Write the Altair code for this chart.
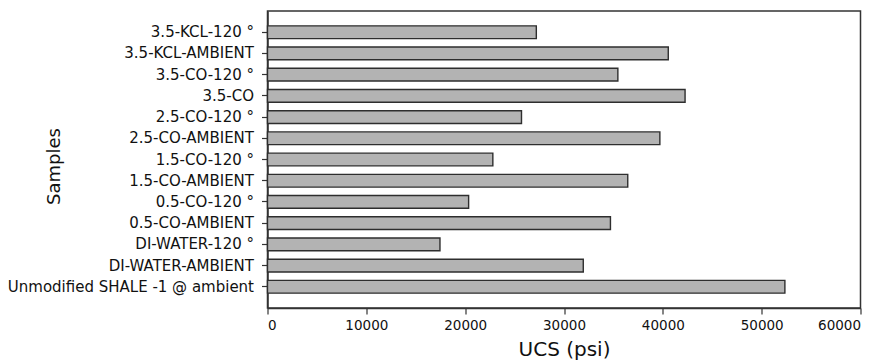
import altair as alt
import pandas as pd

samples = [
    "3.5-KCL-120 °",
    "3.5-KCL-AMBIENT",
    "3.5-CO-120 °",
    "3.5-CO",
    "2.5-CO-120 °",
    "2.5-CO-AMBIENT",
    "1.5-CO-120 °",
    "1.5-CO-AMBIENT",
    "0.5-CO-120 °",
    "0.5-CO-AMBIENT",
    "DI-WATER-120 °",
    "DI-WATER-AMBIENT",
    "Unmodified SHALE -1 @ ambient",
]
ucs = [27200, 40550, 35450, 42250, 25700, 39700, 22800, 36450, 20350, 34700, 17450, 31950, 52350]
x_ticks = [0, 10000, 20000, 30000, 40000, 50000, 60000]

df = pd.DataFrame({"Samples": samples, "UCS": ucs})

FONT = "DejaVu Sans"

chart = (
    alt.Chart(df)
    .mark_bar(fill="#b3b3b3", stroke="#2e2e2e", strokeWidth=1.4)
    .encode(
        x=alt.X(
            "UCS:Q",
            title="UCS (psi)",
            scale=alt.Scale(domain=[0, 60000], nice=False),
            axis=alt.Axis(
                values=x_ticks,
                format="d",
                grid=False,
                tickSize=6,
                labelPadding=4,
                titlePadding=8,
                titleFontSize=20,
                titleFontWeight="normal",
                labelFontSize=13.5,
            ),
        ),
        y=alt.Y(
            "Samples:N",
            title="Samples",
            sort=samples,
            scale=alt.Scale(paddingInner=0.4, paddingOuter=0.7),
            axis=alt.Axis(
                grid=False,
                tickSize=6,
                labelPadding=8,
                labelFontSize=15,
                titleFontSize=18,
                titleFontWeight="normal",
                titleX=-204,
                titleY=155,
                labelLimit=400,
            ),
        ),
    )
    .properties(
        width=593,
        height=297,
        autosize=alt.AutoSizeParams(type="none"),
        padding={"left": 259.5, "top": 3, "right": 18, "bottom": 56},
    )
    .configure_view(stroke="#333333", strokeWidth=1.5)
    .configure_axis(
        domainColor="#333333",
        domainWidth=1.5,
        tickColor="#333333",
        tickWidth=1.2,
        labelColor="#111111",
        titleColor="#111111",
        labelFont=FONT,
        titleFont=FONT,
    )
)

chart.save("out.html", embed_options={"renderer": "svg", "actions": False})
